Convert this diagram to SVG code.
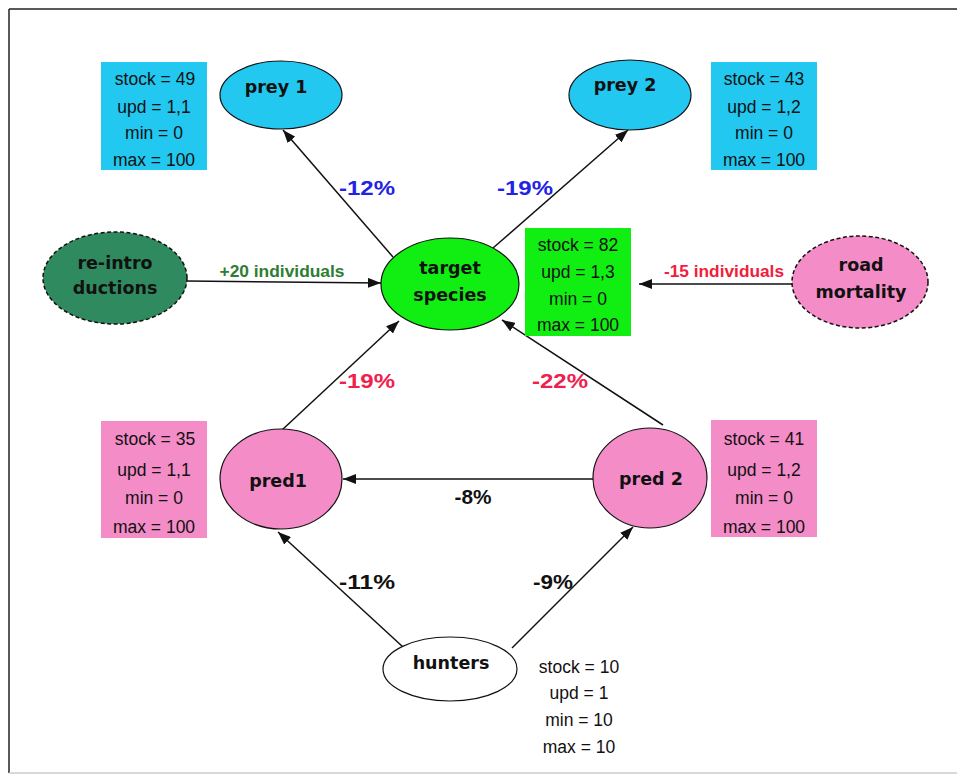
<svg xmlns="http://www.w3.org/2000/svg" width="957" height="783" viewBox="0 0 957 783">
  <defs>
    <marker id="arr" markerUnits="userSpaceOnUse" markerWidth="14" markerHeight="10" refX="13" refY="5" orient="auto">
      <path d="M0,0 L13,5 L0,10 z" fill="#111"/>
    </marker>
    <style>
      .node { font-family: "DejaVu Sans", Verdana, sans-serif; font-weight: bold; font-size: 17.5px; fill: #111; text-anchor: middle; }
      .stat { font-family: "Liberation Sans", Arial, sans-serif; font-size: 17.5px; fill: #111; text-anchor: middle; }
      .pct { font-family: "Liberation Sans", Arial, sans-serif; font-size: 20px; font-weight: bold; text-anchor: middle; }
      .ind { font-family: "Liberation Sans", Arial, sans-serif; font-size: 16px; font-weight: bold; text-anchor: middle; }
      .edge { stroke: #111; stroke-width: 1.5; fill: none; marker-end: url(#arr); }
      .ell { stroke: #111; stroke-width: 1.2; }
      .dash { stroke-dasharray: 4 2.5; stroke-width: 1.5; }
      .cyan { fill: #22c8f0; }
      .pink { fill: #f48cc8; }
      .green { fill: #11ee11; }
    </style>
  </defs>
  <rect width="957" height="783" fill="#fff"/>
  <g id="frame">
    <line x1="9" y1="9" x2="957" y2="9" stroke="#222" stroke-width="1.5"/>
    <line x1="9" y1="9" x2="9" y2="773" stroke="#222" stroke-width="1.5"/>
    <line x1="9" y1="773" x2="957" y2="773" stroke="#ccc" stroke-width="1.5"/>
  </g>

  <g id="connectors">
    <line class="edge" x1="393" y1="257" x2="283" y2="130"/>
    <line class="edge" x1="493" y1="248" x2="628" y2="130"/>
    <line class="edge" x1="187" y1="281" x2="381" y2="283"/>
    <line class="edge" x1="792" y1="284" x2="639" y2="284"/>
    <line class="edge" x1="282" y1="430" x2="399" y2="321"/>
    <line class="edge" x1="663" y1="425" x2="502" y2="320"/>
    <line class="edge" x1="595" y1="479" x2="343" y2="479"/>
    <line class="edge" x1="403" y1="647" x2="278" y2="532"/>
    <line class="edge" x1="512" y1="648" x2="633" y2="527"/>
    <text class="pct" x="367" y="195" fill="#2323e6" textLength="56" lengthAdjust="spacingAndGlyphs">-12%</text>
    <text class="pct" x="525" y="195" fill="#2323e6" textLength="56" lengthAdjust="spacingAndGlyphs">-19%</text>
    <text class="ind" x="282" y="277" fill="#2e7d32" textLength="125" lengthAdjust="spacingAndGlyphs">+20 individuals</text>
    <text class="ind" x="724" y="277" fill="#f0203c" textLength="120" lengthAdjust="spacingAndGlyphs">-15 individuals</text>
    <text class="pct" x="367" y="388" fill="#f0204c" textLength="56" lengthAdjust="spacingAndGlyphs">-19%</text>
    <text class="pct" x="560" y="388" fill="#f0204c" textLength="56" lengthAdjust="spacingAndGlyphs">-22%</text>
    <text class="pct" x="473" y="504" fill="#111" textLength="37" lengthAdjust="spacingAndGlyphs">-8%</text>
    <text class="pct" x="367" y="589" fill="#111" textLength="56" lengthAdjust="spacingAndGlyphs">-11%</text>
    <text class="pct" x="553" y="589" fill="#111" textLength="40" lengthAdjust="spacingAndGlyphs">-9%</text>
  </g>

  <g id="prey1">
    <rect class="cyan" x="101" y="62" width="106" height="108"/>
    <text class="stat" x="155" y="85">stock = 49</text>
    <text class="stat" x="154" y="113">upd = 1,1</text>
    <text class="stat" x="154" y="139">min = 0</text>
    <text class="stat" x="154" y="166">max = 100</text>
    <ellipse class="ell cyan" cx="281" cy="95" rx="61" ry="34"/>
    <text class="node" x="276" y="93">prey 1</text>
  </g>

  <g id="prey2">
    <ellipse class="ell cyan" cx="630" cy="95" rx="61" ry="35"/>
    <text class="node" x="625" y="91">prey 2</text>
    <rect class="cyan" x="711" y="62" width="106" height="108"/>
    <text class="stat" x="764" y="85">stock = 43</text>
    <text class="stat" x="764" y="113">upd = 1,2</text>
    <text class="stat" x="764" y="139">min = 0</text>
    <text class="stat" x="764" y="166">max = 100</text>
  </g>

  <g id="reintroductions">
    <ellipse class="ell dash" cx="115" cy="278" rx="72" ry="46" fill="#2f8b5f"/>
    <text class="node" x="115" y="269">re-intro</text>
    <text class="node" x="115" y="294">ductions</text>
  </g>

  <g id="target">
    <ellipse class="ell green" cx="450" cy="284" rx="69" ry="46"/>
    <text class="node" x="450" y="274">target</text>
    <text class="node" x="450" y="301">species</text>
    <rect class="green" x="525" y="228" width="106" height="108"/>
    <text class="stat" x="578" y="251">stock = 82</text>
    <text class="stat" x="578" y="278">upd = 1,3</text>
    <text class="stat" x="578" y="305">min = 0</text>
    <text class="stat" x="578" y="331">max = 100</text>
  </g>

  <g id="road">
    <ellipse class="ell dash pink" cx="860" cy="282" rx="68" ry="46"/>
    <text class="node" x="861" y="271">road</text>
    <text class="node" x="861" y="298">mortality</text>
  </g>

  <g id="pred1">
    <rect class="pink" x="101" y="421" width="106" height="117"/>
    <text class="stat" x="155" y="445">stock = 35</text>
    <text class="stat" x="154" y="476">upd = 1,1</text>
    <text class="stat" x="154" y="504">min = 0</text>
    <text class="stat" x="154" y="533">max = 100</text>
    <ellipse class="ell pink" cx="281" cy="479" rx="61" ry="50"/>
    <text class="node" x="278" y="487">pred1</text>
  </g>

  <g id="pred2">
    <ellipse class="ell pink" cx="650" cy="478" rx="57" ry="50"/>
    <text class="node" x="651" y="485">pred 2</text>
    <rect class="pink" x="711" y="420" width="106" height="117"/>
    <text class="stat" x="764" y="445">stock = 41</text>
    <text class="stat" x="764" y="476">upd = 1,2</text>
    <text class="stat" x="764" y="504">min = 0</text>
    <text class="stat" x="764" y="533">max = 100</text>
  </g>

  <g id="hunters">
    <ellipse class="ell" cx="450" cy="669" rx="67" ry="32" fill="#fff"/>
    <text class="node" x="451" y="669">hunters</text>
    <text class="stat" x="579" y="673">stock = 10</text>
    <text class="stat" x="579" y="699">upd = 1</text>
    <text class="stat" x="579" y="726">min = 10</text>
    <text class="stat" x="579" y="753">max = 10</text>
  </g>
</svg>
